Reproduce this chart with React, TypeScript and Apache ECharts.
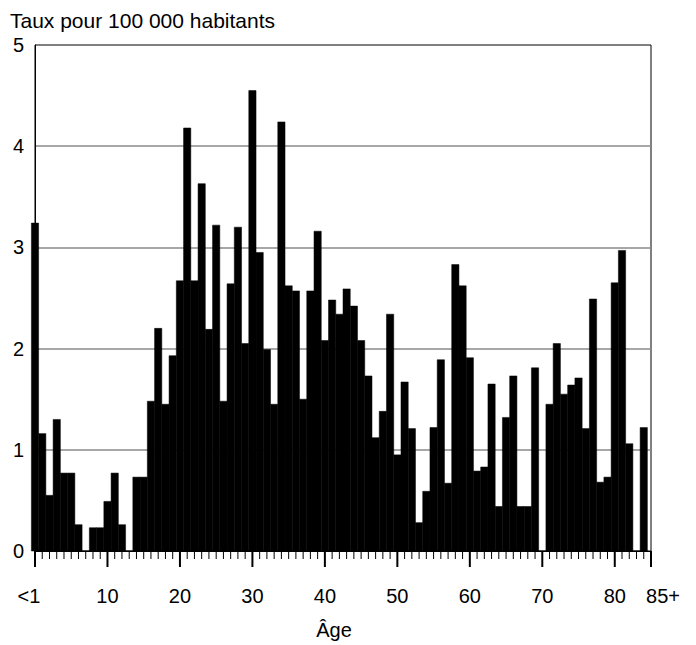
import React, { useEffect, useRef } from "react";
import * as echarts from "echarts";

const ages: number[] = Array.from({ length: 85 }, (_, i) => i);
const rates: number[] = [
  3.24, 1.16, 0.55, 1.30, 0.77, 0.77, 0.26, 0, 0.23, 0.23,
  0.49, 0.77, 0.26, 0, 0.73, 0.73, 1.48, 2.20, 1.45, 1.93,
  2.67, 4.18, 2.67, 3.63, 2.19, 3.22, 1.48, 2.64, 3.20, 2.05,
  4.55, 2.95, 1.99, 1.45, 4.24, 2.62, 2.57, 1.50, 2.57, 3.16,
  2.08, 2.48, 2.34, 2.59, 2.42, 2.08, 1.73, 1.12, 1.38, 2.34,
  0.95, 1.67, 1.21, 0.28, 0.59, 1.22, 1.89, 0.67, 2.83, 2.62,
  1.91, 0.79, 0.83, 1.65, 0.44, 1.32, 1.73, 0.44, 0.44, 1.81,
  0, 1.45, 2.05, 1.55, 1.64, 1.71, 1.21, 2.49, 0.68, 0.73,
  2.65, 2.97, 1.06, 0, 1.22,
];
const xTickValues: number[] = Array.from({ length: 86 }, (_, i) => i);
const yTicks: number[] = [0, 1, 2, 3, 4, 5];
const xMajorLabels: Record<number, string> = { 0: "<1", 85: "85+" };
const yTitle = "Taux pour 100 000 habitants";
const xTitle = "Âge";

const FONT = "'Liberation Sans', Arial, sans-serif";

export default function App() {
  const ref = useRef<HTMLDivElement>(null);
  useEffect(() => {
    if (!ref.current) return;
    const chart = echarts.init(ref.current, undefined, { renderer: "svg" });
    const data = ages.map((a, i) => [a, rates[i]]);
    const tickData = xTickValues.map((t) => [t, 0]);
    chart.setOption({
      animation: false,
      backgroundColor: "#fff",
      title: {
        text: yTitle,
        left: 5,
        top: 5,
        textStyle: { fontFamily: FONT, fontSize: 21, fontWeight: "normal", color: "#000" },
      },
      grid: {
        left: 35,
        top: 45,
        width: 616,
        height: 508,
        show: true,
        borderColor: "#000",
        borderWidth: 1,
        backgroundColor: "transparent",
      },
      xAxis: {
        type: "value",
        min: 0,
        max: 85,
        interval: 10,
        position: "bottom",
        name: xTitle,
        nameLocation: "middle",
        nameGap: 69,
        nameTextStyle: { fontFamily: FONT, fontSize: 20, color: "#000", padding: [0, 18, 0, 0] },
        axisLine: { show: true, onZero: false, lineStyle: { color: "#000", width: 1 } },
        axisTick: { show: false },
        axisLabel: {
          show: true,
          margin: 35,
          showMinLabel: true,
          showMaxLabel: true,
          hideOverlap: false,
          fontFamily: FONT,
          fontSize: 20,
          color: "#000",
          formatter: (v: number) => {
            if (v === 0) return "{a|" + xMajorLabels[0] + "}";
            if (v === 85) return "{b|" + xMajorLabels[85] + "}";
            return String(v);
          },
          rich: {
            a: { fontFamily: FONT, fontSize: 20, color: "#000", padding: [0, 12, 0, 0] },
            b: { fontFamily: FONT, fontSize: 20, color: "#000", padding: [0, 0, 0, 24] },
          },
        },
        splitLine: { show: false },
      },
      yAxis: {
        type: "value",
        min: yTicks[0],
        max: yTicks[yTicks.length - 1],
        interval: 1,
        axisLine: { show: true, onZero: false, lineStyle: { color: "#000", width: 1 } },
        axisTick: { show: false },
        axisLabel: { fontFamily: FONT, fontSize: 20, color: "#000", margin: 11 },
        splitLine: {
          show: true,
          showMinLine: false,
          showMaxLine: false,
          lineStyle: { color: "#8a8a8a", width: 1.5 },
        },
      },
      series: [
        {
          type: "custom",
          name: "taux",
          xAxisIndex: 0,
          yAxisIndex: 0,
          clip: false,
          encode: { x: 0, y: 1 },
          data,
          renderItem: (params: any, api: any) => {
            const x = api.value(0);
            const y = api.value(1);
            const p0 = api.coord([x - 0.5, y]);
            const p1 = api.coord([x + 0.5, 0]);
            return {
              type: "rect",
              shape: { x: p0[0], y: p0[1], width: p1[0] - p0[0], height: p1[1] - p0[1] },
              style: { fill: "#000", stroke: "#000", lineWidth: 0.5 },
            };
          },
        },
        {
          type: "custom",
          name: "ticks",
          xAxisIndex: 0,
          yAxisIndex: 0,
          clip: false,
          silent: true,
          encode: { x: 0, y: 1 },
          data: tickData,
          renderItem: (params: any, api: any) => {
            const t = api.value(0);
            const p = api.coord([t, 0]);
            const major = t % 10 === 0 || t === 85;
            const len = major ? 16 : 8;
            return {
              type: "line",
              shape: { x1: p[0], y1: p[1], x2: p[0], y2: p[1] + len },
              style: { stroke: "#000", lineWidth: major ? 2 : 1 },
            };
          },
        },
      ],
    });
    return () => chart.dispose();
  }, []);
  return <div ref={ref} style={{ width: 696, height: 645, position: "absolute", left: 0, top: 0 }} />;
}
